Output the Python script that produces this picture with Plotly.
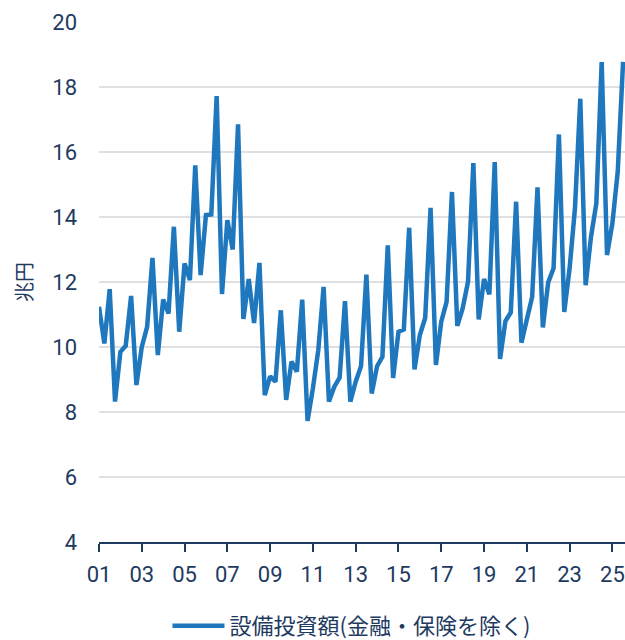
import plotly.graph_objects as go

# Quarterly values (trillion yen), 2001 Q1 .. 2025 Q3
values = [
    11.24, 10.11, 11.78, 8.32, 9.85, 10.04, 11.57, 8.83, 10.00, 10.62,
    12.74, 9.75, 11.46, 11.03, 13.70, 10.47, 12.57, 12.06, 15.59, 12.21,
    14.06, 14.08, 17.72, 11.63, 13.90, 13.00, 16.85, 10.86, 12.09, 10.74,
    12.59, 8.52, 9.10, 8.93, 11.13, 8.37, 9.55, 9.24, 11.46, 7.73,
    8.73, 9.90, 11.85, 8.32, 8.78, 9.06, 11.41, 8.32, 8.93, 9.41,
    12.23, 8.57, 9.41, 9.70, 13.13, 9.05, 10.47, 10.54, 13.67, 9.31,
    10.37, 10.90, 14.28, 9.45, 10.78, 11.39, 14.77, 10.65, 11.19, 12.00,
    15.66, 10.85, 12.09, 11.62, 15.69, 9.63, 10.80, 11.06, 14.47, 10.13,
    10.85, 11.54, 14.91, 10.60, 11.99, 12.42, 16.54, 11.08, 12.42, 14.26,
    17.64, 11.90, 13.39, 14.42, 18.77, 12.83, 13.80, 15.39, 18.77,
]
start_year = 2001
periods = [start_year + i / 4 for i in range(len(values))]

tick_years = list(range(2001, 2026, 2))
tick_labels = [f"{y % 100:02d}" for y in tick_years]
y_ticks = [4, 6, 8, 10, 12, 14, 16, 18, 20]

series_name = "設備投資額(金融・保険を除く)"
y_title = "兆円"

navy = "#1e3a5f"
blue = "#1f77bd"

fig = go.Figure()
fig.add_trace(go.Scatter(
    x=periods, y=values, mode="lines", name=series_name,
    line=dict(color=blue, width=4.5),
))

fig.update_layout(
    width=625, height=640,
    margin=dict(l=99, r=0, t=22, b=98, autoexpand=False),
    paper_bgcolor="white", plot_bgcolor="white",
    font=dict(family="Roboto, 'Noto Sans CJK JP', sans-serif", color=navy, size=22),
    showlegend=True,
    legend=dict(
        orientation="h", xref="paper", yref="container",
        x=0.48, xanchor="center", y=0.022, yanchor="middle",
        font=dict(size=22, family="'Noto Sans CJK JP', sans-serif", color=navy),
        itemwidth=52,
    ),
)
fig.update_xaxes(
    range=[2001, 2025.59], automargin=False,
    tickvals=tick_years, ticktext=tick_labels,
    showgrid=False, zeroline=False,
    showline=True, linecolor=navy, linewidth=1.5,
    ticks="outside", ticklen=8, tickwidth=1.5, tickcolor=navy,
    ticklabelstandoff=4,
    tickfont=dict(size=22, color=navy),
)
fig.update_yaxes(
    range=[4, 20], tickvals=y_ticks, automargin=False,
    showgrid=True, gridcolor="#e0e0e0", gridwidth=2,
    zeroline=False, showline=False,
    ticklabelstandoff=21,
    tickfont=dict(size=22, color=navy),
    title=dict(text=y_title, font=dict(size=20, family="'Noto Sans CJK JP', sans-serif", color=navy), standoff=14),
)

fig.write_html(
    "out.html",
    config={"displayModeBar": False},
    post_script="document.body.style.margin='0';document.body.style.padding='0';",
)
